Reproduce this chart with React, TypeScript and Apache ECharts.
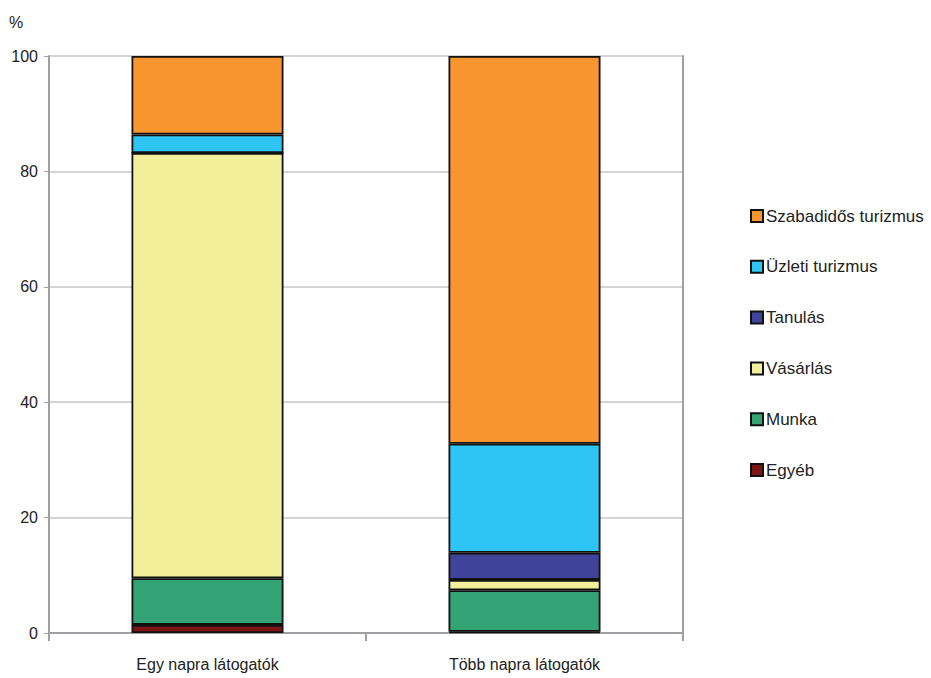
import React, { useEffect, useRef } from "react";
import * as echarts from "echarts";

const categories = ["Egy napra látogatók", "Több napra látogatók"];
const seriesNames = ["Egyéb", "Munka", "Vásárlás", "Tanulás", "Üzleti turizmus", "Szabadidős turizmus"];
const egyeb = [1.4, 0.2];
const munka = [8.1, 7.2];
const vasarlas = [73.7, 1.8];
const tanulas = [0, 4.7];
const uzleti = [3.2, 18.9];
const szabadidos = [13.6, 67.2];
const colors = ["#7E1416", "#33A274", "#F2F09A", "#40439A", "#2EC5F5", "#F7952E"];
const yTicks = [0, 20, 40, 60, 80, 100];

const FONT = "'Liberation Sans Narrow', 'Liberation Sans', Arial, sans-serif";

export default function App() {
  const ref = useRef<HTMLDivElement>(null);
  useEffect(() => {
    if (!ref.current) return;
    const chart = echarts.init(ref.current, null, { renderer: "svg" });
    const values = [egyeb, munka, vasarlas, tanulas, uzleti, szabadidos];
    const series = seriesNames.map((name, i) => ({
      name,
      type: "bar",
      stack: "total",
      barWidth: 152,
      data: values[i],
      itemStyle: { color: colors[i], borderColor: "#111", borderWidth: 1.8 },
      emphasis: { disabled: true },
    }));
    chart.setOption({
      animation: false,
      grid: { left: 49, right: 248, top: 56, bottom: 45 },
      graphic: [
        {
          type: "text",
          left: 9,
          top: 14,
          style: { text: "%", font: `16px ${FONT}`, fill: "#222" },
        },
      ],
      legend: {
        orient: "vertical",
        left: 745,
        top: 201,
        icon: "rect",
        itemWidth: 12,
        itemHeight: 12,
        itemGap: 30.8,
        data: [...seriesNames].reverse(),
        textStyle: { fontFamily: FONT, fontSize: 17, color: "#222", lineHeight: 20, padding: [0, 0, 0, -2] },
        selectedMode: false,
      },
      xAxis: {
        type: "category",
        data: categories,
        axisLine: { show: true, lineStyle: { color: "#a0a0a4", width: 2 } },
        axisTick: { show: true, length: 8, lineStyle: { color: "#a0a0a4", width: 2 } },
        axisLabel: { margin: 23, fontFamily: FONT, fontSize: 16, color: "#222" },
      },
      yAxis: [
        {
          type: "value",
          min: 0,
          max: 100,
          interval: 20,
          axisLine: { show: true, lineStyle: { color: "#a0a0a4", width: 2 } },
          axisTick: { show: true, length: 5, lineStyle: { color: "#a0a0a4", width: 1 } },
          axisLabel: {
            margin: 11,
            fontFamily: FONT,
            fontSize: 16,
            color: "#222",
            formatter: (v: number) => (yTicks.includes(v) ? String(v) : ""),
          },
          splitLine: { show: true, lineStyle: { color: "#c6c6c8", width: 1.5 } },
        },
        {
          type: "value",
          min: 0,
          max: 100,
          interval: 20,
          position: "right",
          axisLine: { show: true, lineStyle: { color: "#a0a0a4", width: 2 } },
          axisTick: { show: false },
          axisLabel: { show: false },
          splitLine: { show: false },
        },
      ],
      series,
    });
    return () => chart.dispose();
  }, []);
  return <div ref={ref} style={{ width: 931, height: 678, position: "absolute", left: 0, top: 0 }} />;
}
